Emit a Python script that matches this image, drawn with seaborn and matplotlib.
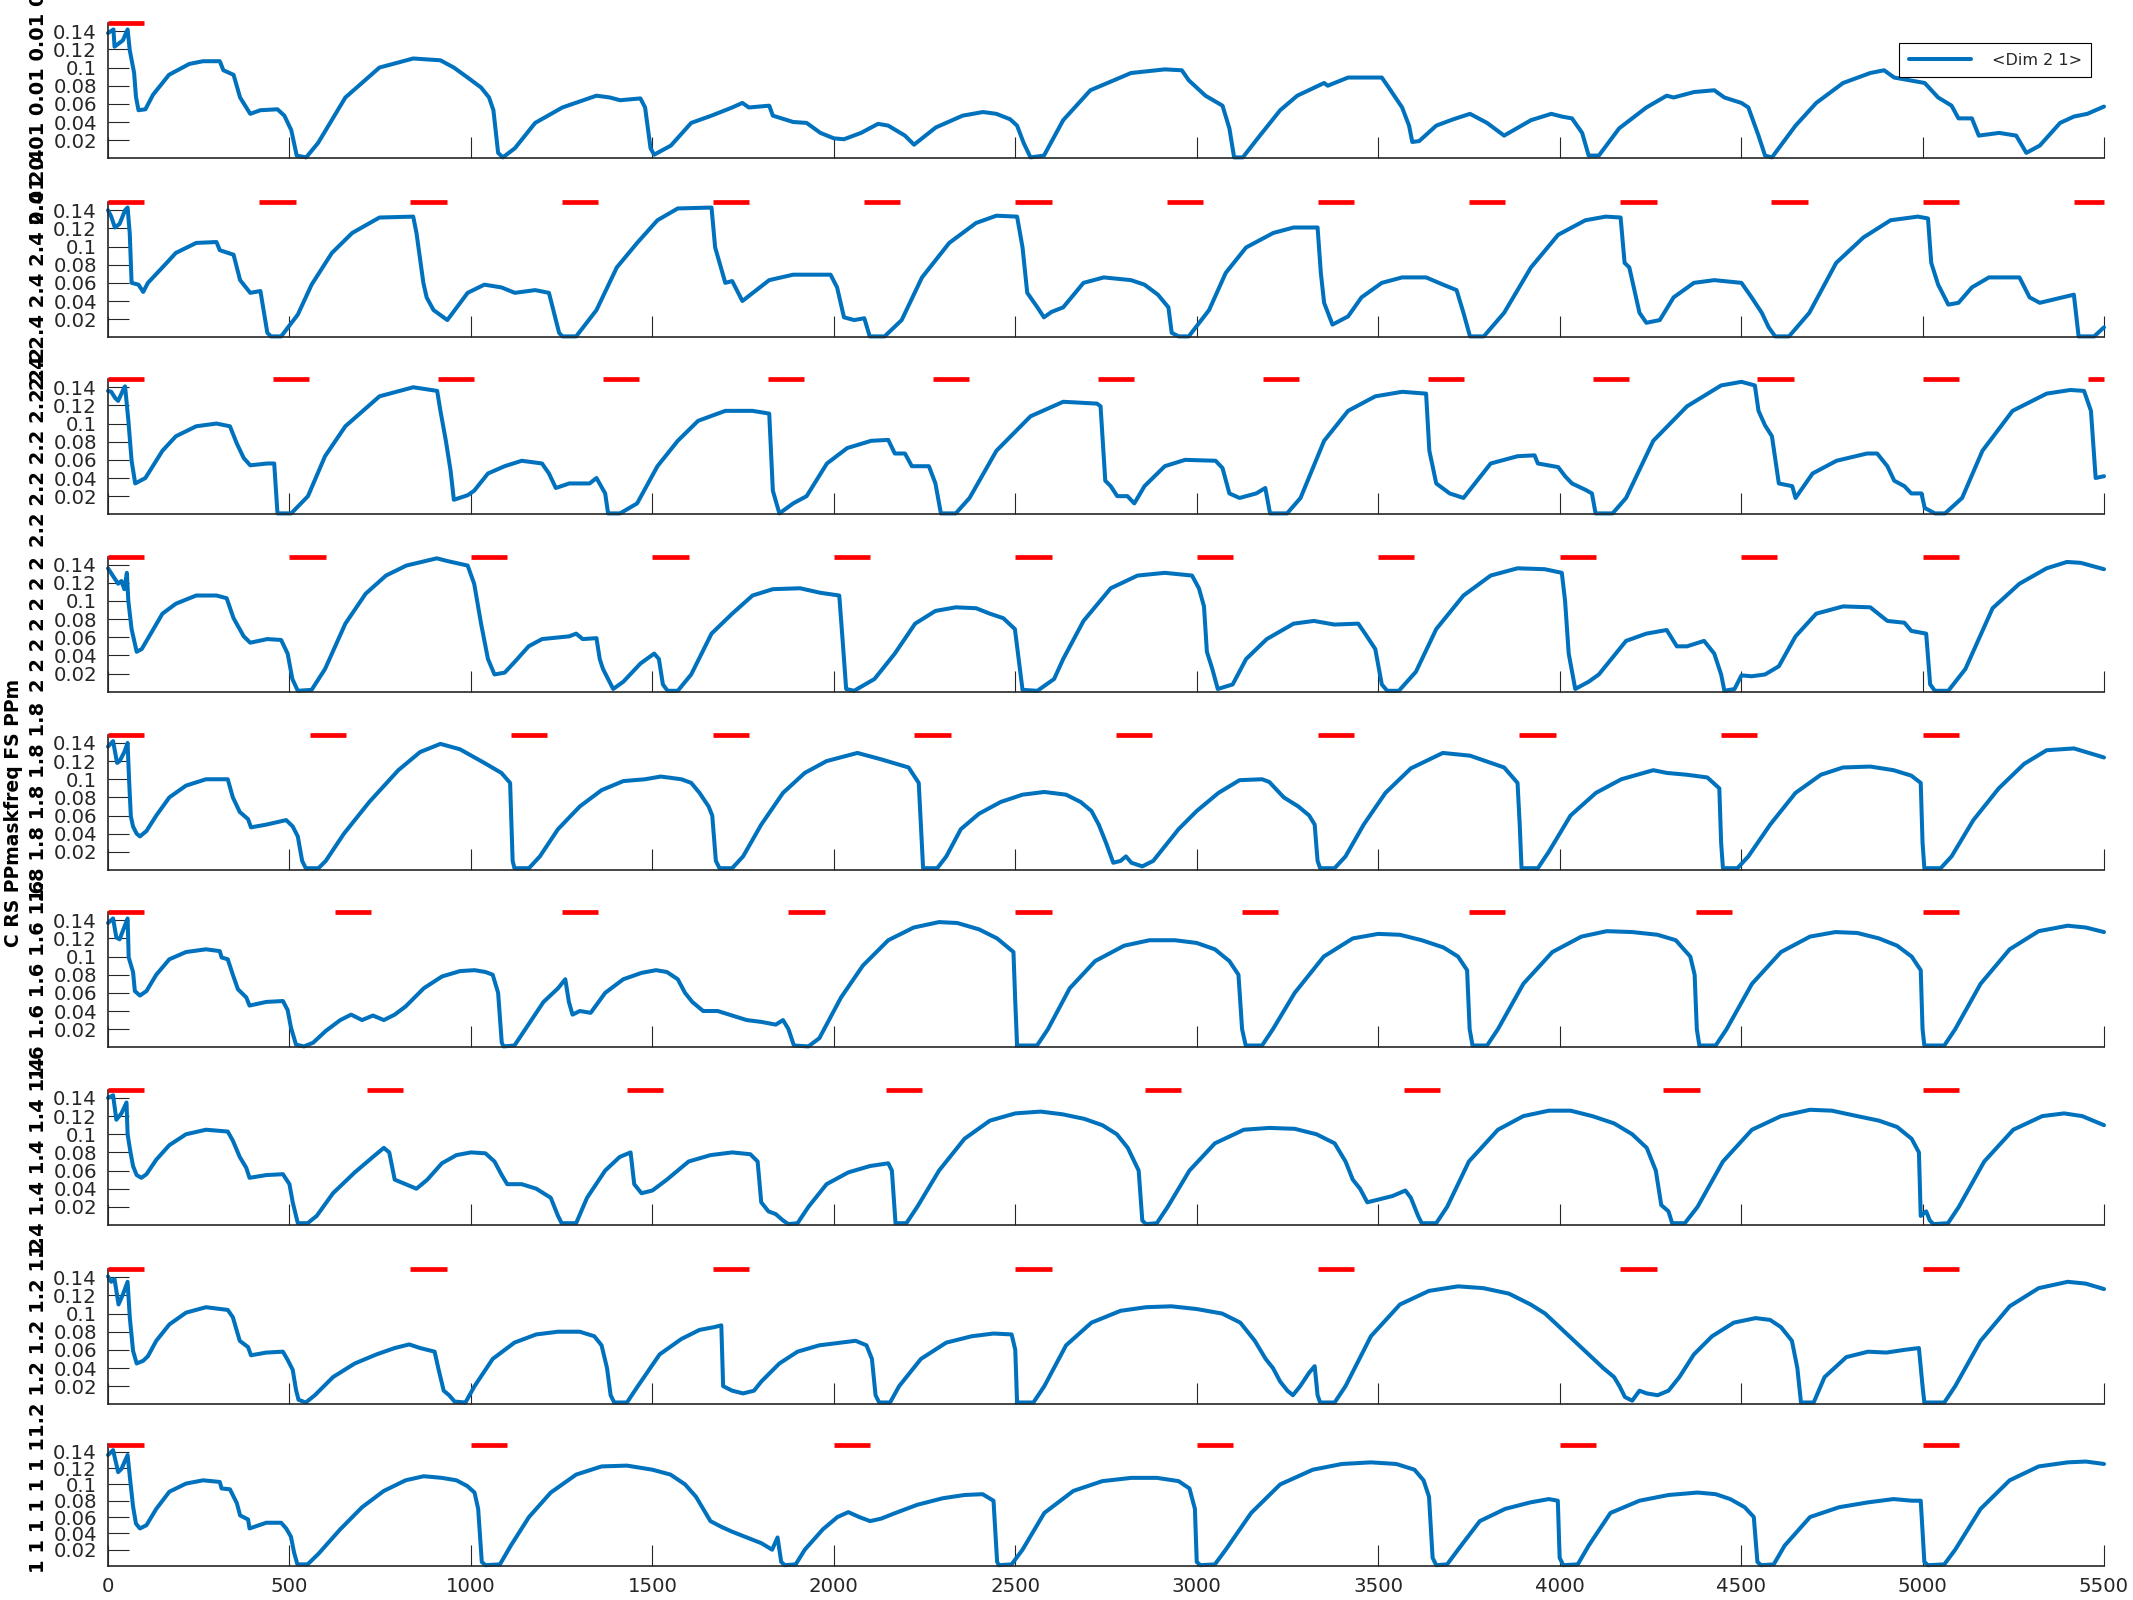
import matplotlib
matplotlib.use("Agg")
import matplotlib.pyplot as plt
from matplotlib.lines import Line2D
import pandas as pd
import seaborn as sns

sns.set_style("ticks")
plt.rcParams['font.family'] = ['DejaVu Sans']

# ---------------- data (x sample index, value) ----------------
s1 = [(0,0.138),(15,0.142),(18,0.123),(41,0.130),(54,0.142),(60,0.119),(72,0.094),(77,0.068),(84,0.053),(103,0.054),
      (124,0.070),(168,0.092),(224,0.104),(262,0.107),(308,0.107),(318,0.097),(346,0.092),(364,0.067),(392,0.049),(420,0.053),
      (467,0.054),(486,0.047),(505,0.031),(520,0.003),(546,0.001),(579,0.017),(654,0.067),(748,0.100),(841,0.110),(916,0.108),
      (953,0.100),(991,0.089),(1028,0.078),(1050,0.067),(1062,0.053),(1075,0.006),(1088,0.001),(1121,0.011),(1177,0.039),(1252,0.056),
      (1346,0.069),(1383,0.067),(1411,0.064),(1467,0.066),(1480,0.056),(1495,0.011),(1505,0.004),(1551,0.014),(1607,0.039),(1663,0.047),
      (1720,0.056),(1748,0.061),(1766,0.056),(1822,0.058),(1832,0.047),(1888,0.040),(1925,0.039),(1963,0.028),(2000,0.022),(2028,0.021),
      (2075,0.028),(2122,0.038),(2150,0.036),(2196,0.025),(2221,0.015),(2281,0.034),(2355,0.047),(2411,0.051),(2448,0.049),(2486,0.043),
      (2505,0.036),(2523,0.017),(2542,0.001),(2579,0.003),(2632,0.042),(2707,0.075),(2819,0.094),(2912,0.098),(2959,0.097),(2978,0.086),
      (3024,0.069),(3071,0.058),(3090,0.033),(3103,0.001),(3127,0.001),(3174,0.025),(3230,0.053),(3277,0.069),(3351,0.083),(3361,0.080),
      (3417,0.089),(3510,0.089),(3529,0.078),(3566,0.056),(3585,0.036),(3594,0.018),(3613,0.019),(3660,0.036),(3707,0.043),(3753,0.049),
      (3800,0.039),(3847,0.025),(3921,0.042),(3977,0.049),(4006,0.046),(4034,0.044),(4062,0.028),(4080,0.003),(4108,0.003),(4164,0.033),
      (4239,0.056),(4295,0.069),(4314,0.067),(4370,0.073),(4426,0.075),(4454,0.067),(4501,0.061),(4520,0.056),(4548,0.025),(4566,0.003),
      (4585,0.001),(4650,0.036),(4707,0.061),(4781,0.083),(4856,0.094),(4894,0.097),(4922,0.089),(5006,0.083),(5043,0.067),(5080,0.058),
      (5099,0.044),(5136,0.044),(5155,0.025),(5211,0.028),(5258,0.025),(5286,0.006),(5323,0.014),(5379,0.039),(5417,0.046),(5454,0.049),
      (5500,0.057)]

s2 = [(0,0.140),(9,0.133),(19,0.121),(32,0.125),(47,0.140),(54,0.143),(60,0.114),(65,0.060),(84,0.058),(97,0.050),
      (110,0.060),(150,0.077),(187,0.093),(243,0.104),(299,0.105),(308,0.096),(346,0.091),(364,0.063),(392,0.049),(420,0.051),
      (439,0.005),(449,0.001),(477,0.001),(523,0.025),(561,0.058),(617,0.093),(673,0.115),(748,0.132),(841,0.133),(850,0.115),
      (869,0.060),(878,0.044),(897,0.030),(935,0.019),(991,0.049),(1037,0.058),(1084,0.055),(1121,0.049),(1177,0.052),(1215,0.049),
      (1243,0.005),(1252,0.001),(1290,0.001),(1346,0.030),(1402,0.077),(1458,0.104),(1514,0.129),(1570,0.142),(1663,0.143),(1673,0.099),
      (1701,0.060),(1720,0.062),(1748,0.040),(1822,0.063),(1888,0.069),(1991,0.069),(2009,0.055),(2028,0.022),(2056,0.019),(2084,0.021),
      (2099,0.001),(2140,0.001),(2187,0.019),(2243,0.066),(2318,0.104),(2392,0.126),(2448,0.134),(2505,0.133),(2520,0.099),(2533,0.049),
      (2561,0.033),(2579,0.022),(2600,0.028),(2632,0.033),(2688,0.060),(2744,0.066),(2819,0.063),(2856,0.058),(2893,0.047),(2922,0.033),
      (2931,0.005),(2950,0.001),(2978,0.001),(3034,0.030),(3080,0.071),(3136,0.099),(3211,0.115),(3267,0.121),(3333,0.121),(3342,0.071),
      (3351,0.038),(3374,0.014),(3417,0.023),(3454,0.044),(3510,0.060),(3566,0.066),(3632,0.066),(3679,0.058),(3716,0.052),(3735,0.027),
      (3753,0.001),(3791,0.001),(3847,0.027),(3921,0.077),(3996,0.113),(4071,0.129),(4127,0.133),(4168,0.132),(4179,0.082),(4192,0.077),
      (4220,0.027),(4239,0.016),(4276,0.019),(4314,0.044),(4370,0.060),(4426,0.063),(4501,0.060),(4529,0.044),(4557,0.027),(4576,0.011),
      (4594,0.001),(4632,0.001),(4688,0.027),(4762,0.082),(4837,0.110),(4912,0.129),(4987,0.133),(5015,0.131),(5024,0.082),(5043,0.058),
      (5071,0.036),(5099,0.038),(5136,0.055),(5183,0.066),(5267,0.066),(5295,0.044),(5323,0.038),(5417,0.047),(5430,0.001),(5473,0.001),
      (5500,0.011)]

s3 = [(0,0.136),(9,0.135),(20,0.128),(28,0.125),(45,0.140),(47,0.141),(56,0.104),(65,0.059),(75,0.034),(103,0.040),
      (150,0.070),(187,0.086),(243,0.097),(299,0.100),(336,0.097),(355,0.078),(374,0.062),(392,0.054),(439,0.056),(458,0.056),
      (467,0.001),(505,0.001),(551,0.020),(598,0.064),(654,0.097),(748,0.130),(841,0.140),(907,0.136),(916,0.114),(931,0.081),
      (944,0.048),(953,0.016),(991,0.021),(1009,0.026),(1047,0.045),(1093,0.053),(1140,0.059),(1196,0.056),(1215,0.045),(1234,0.029),
      (1271,0.034),(1327,0.034),(1346,0.040),(1370,0.023),(1378,0.001),(1411,0.001),(1458,0.012),(1514,0.053),(1570,0.081),(1626,0.103),
      (1701,0.114),(1776,0.114),(1822,0.111),(1832,0.026),(1850,0.001),(1888,0.012),(1925,0.020),(1981,0.056),(2037,0.073),(2103,0.081),
      (2150,0.082),(2168,0.067),(2196,0.067),(2215,0.053),(2262,0.053),(2280,0.034),(2295,0.001),(2336,0.001),(2374,0.018),(2448,0.070),
      (2542,0.108),(2632,0.124),(2725,0.122),(2735,0.119),(2748,0.037),(2763,0.031),(2781,0.020),(2809,0.020),(2828,0.012),(2856,0.031),
      (2912,0.053),(2968,0.060),(3052,0.059),(3071,0.051),(3090,0.023),(3118,0.018),(3164,0.023),(3189,0.029),(3202,0.001),(3249,0.001),
      (3286,0.018),(3351,0.081),(3417,0.114),(3492,0.130),(3566,0.135),(3632,0.133),(3641,0.070),(3660,0.034),(3697,0.023),(3735,0.018),
      (3810,0.056),(3884,0.064),(3931,0.065),(3940,0.056),(3996,0.052),(4015,0.042),(4034,0.034),(4071,0.027),(4089,0.023),(4099,0.001),
      (4146,0.001),(4183,0.018),(4258,0.081),(4351,0.119),(4445,0.142),(4501,0.146),(4538,0.142),(4548,0.114),(4566,0.098),(4585,0.086),
      (4604,0.034),(4641,0.031),(4650,0.018),(4697,0.045),(4763,0.059),(4847,0.067),(4875,0.067),(4903,0.053),(4922,0.037),(4950,0.031),
      (4969,0.023),(4997,0.023),(5006,0.007),(5034,0.001),(5062,0.001),(5109,0.018),(5165,0.070),(5248,0.114),(5342,0.133),(5407,0.137),
      (5445,0.136),(5464,0.114),(5477,0.040),(5500,0.042)]

s4 = [(0,0.136),(13,0.128),(28,0.119),(37,0.122),(45,0.113),(52,0.131),(56,0.100),(65,0.069),(79,0.044),(93,0.047),
      (150,0.086),(187,0.097),(243,0.106),(299,0.106),(327,0.103),(346,0.081),(374,0.061),(392,0.054),(439,0.058),(477,0.057),
      (495,0.042),(508,0.014),(523,0.001),(561,0.002),(598,0.025),(654,0.075),(710,0.108),(766,0.128),(822,0.139),(906,0.147),
      (935,0.144),(991,0.139),(1009,0.119),(1028,0.075),(1047,0.036),(1065,0.019),(1093,0.021),(1121,0.033),(1159,0.050),(1196,0.058),
      (1271,0.061),(1290,0.064),(1308,0.058),(1346,0.059),(1355,0.036),(1364,0.025),(1392,0.003),(1420,0.011),(1467,0.031),(1505,0.042),
      (1518,0.036),(1529,0.008),(1542,0.001),(1570,0.001),(1607,0.019),(1663,0.064),(1720,0.086),(1776,0.106),(1832,0.113),(1907,0.114),
      (1963,0.109),(2015,0.106),(2024,0.058),(2034,0.003),(2056,0.001),(2112,0.014),(2168,0.042),(2224,0.075),(2280,0.089),(2336,0.093),
      (2392,0.092),(2430,0.086),(2467,0.081),(2499,0.069),(2511,0.031),(2520,0.002),(2561,0.001),(2607,0.014),(2632,0.036),(2688,0.078),
      (2763,0.114),(2837,0.128),(2912,0.131),(2987,0.128),(3006,0.114),(3020,0.094),(3028,0.044),(3043,0.025),(3058,0.003),(3099,0.008),
      (3136,0.036),(3193,0.058),(3267,0.075),(3323,0.078),(3379,0.074),(3445,0.075),(3464,0.064),(3492,0.047),(3510,0.008),(3525,0.001),
      (3557,0.001),(3604,0.022),(3660,0.069),(3735,0.106),(3810,0.128),(3884,0.136),(3959,0.135),(4006,0.131),(4015,0.100),(4025,0.042),
      (4043,0.003),(4080,0.011),(4108,0.019),(4183,0.056),(4239,0.064),(4295,0.068),(4323,0.050),(4351,0.050),(4398,0.056),(4426,0.042),
      (4445,0.019),(4454,0.001),(4482,0.003),(4501,0.018),(4529,0.017),(4566,0.019),(4604,0.028),(4650,0.061),(4707,0.086),(4781,0.094),
      (4856,0.093),(4903,0.078),(4950,0.076),(4969,0.067),(5010,0.064),(5021,0.008),(5034,0.001),(5071,0.001),(5118,0.025),(5193,0.092),
      (5267,0.119),(5342,0.136),(5398,0.143),(5436,0.142),(5500,0.135)]

s5 = [(0,0.136),(14,0.142),(25,0.118),(32,0.120),(45,0.130),(54,0.140),(58,0.100),(63,0.059),(69,0.048),(79,0.040),
      (88,0.037),(106,0.043),(133,0.060),(169,0.080),(215,0.093),(270,0.100),(330,0.100),(344,0.080),(363,0.064),(386,0.056),
      (394,0.047),(436,0.050),(491,0.055),(509,0.048),(523,0.037),(535,0.010),(545,0.002),(580,0.002),(600,0.010),(650,0.040),
      (720,0.075),(800,0.110),(860,0.130),(916,0.139),(970,0.133),(1037,0.118),(1084,0.107),(1108,0.096),(1115,0.010),(1120,0.002),
      (1160,0.002),(1190,0.015),(1240,0.045),(1300,0.070),(1360,0.088),(1420,0.098),(1480,0.100),(1523,0.103),(1580,0.100),(1607,0.096),
      (1630,0.085),(1655,0.070),(1665,0.060),(1675,0.010),(1685,0.002),(1720,0.002),(1750,0.015),(1800,0.050),(1860,0.085),(1920,0.107),
      (1980,0.120),(2065,0.129),(2130,0.122),(2206,0.113),(2234,0.096),(2240,0.050),(2246,0.002),(2285,0.002),(2310,0.015),(2350,0.045),
      (2400,0.062),(2460,0.075),(2520,0.083),(2580,0.086),(2640,0.083),(2680,0.075),(2710,0.065),(2730,0.050),(2750,0.030),(2770,0.008),
      (2790,0.010),(2805,0.015),(2820,0.008),(2850,0.004),(2880,0.010),(2900,0.020),(2950,0.045),(3000,0.065),(3060,0.085),(3118,0.099),
      (3180,0.100),(3200,0.097),(3240,0.080),(3280,0.070),(3310,0.060),(3325,0.050),(3333,0.010),(3340,0.002),(3380,0.002),(3410,0.015),
      (3460,0.050),(3520,0.085),(3590,0.112),(3678,0.129),(3753,0.126),(3847,0.113),(3884,0.096),(3890,0.050),(3895,0.002),(3940,0.002),
      (3970,0.020),(4030,0.060),(4100,0.085),(4170,0.100),(4258,0.110),(4295,0.107),(4350,0.105),(4407,0.102),(4440,0.090),(4445,0.030),
      (4450,0.002),(4490,0.002),(4520,0.015),(4580,0.050),(4650,0.085),(4720,0.105),(4781,0.113),(4856,0.114),(4920,0.110),(4969,0.104),
      (4995,0.096),(5000,0.030),(5005,0.002),(5050,0.002),(5080,0.015),(5140,0.055),(5210,0.090),(5280,0.117),(5342,0.132),(5417,0.134),
      (5500,0.124)]

s6 = [(0,0.137),(14,0.142),(23,0.121),(32,0.119),(54,0.142),(57,0.099),(69,0.083),(74,0.062),(88,0.057),(106,0.062),
      (133,0.080),(169,0.097),(215,0.105),(270,0.108),(308,0.106),(313,0.099),(330,0.097),(344,0.080),(358,0.064),(381,0.055),
      (390,0.046),(436,0.050),(482,0.051),(495,0.041),(504,0.022),(518,0.003),(540,0.001),(565,0.005),(600,0.018),(640,0.030),
      (670,0.036),(700,0.030),(730,0.035),(760,0.030),(790,0.036),(820,0.045),(870,0.065),(920,0.078),(970,0.084),(1010,0.085),
      (1040,0.083),(1060,0.080),(1075,0.060),(1085,0.005),(1090,0.001),(1120,0.002),(1150,0.020),(1200,0.050),(1240,0.065),(1260,0.075),
      (1270,0.050),(1280,0.036),(1300,0.040),(1330,0.038),(1370,0.060),(1420,0.075),(1470,0.082),(1510,0.085),(1540,0.083),(1570,0.075),
      (1590,0.060),(1610,0.050),(1640,0.040),(1680,0.040),(1720,0.035),(1760,0.030),(1800,0.028),(1840,0.025),(1860,0.030),(1875,0.020),
      (1890,0.002),(1930,0.001),(1960,0.010),(2020,0.055),(2080,0.090),(2150,0.118),(2220,0.132),(2290,0.138),(2340,0.137),(2400,0.130),
      (2450,0.120),(2480,0.110),(2495,0.105),(2500,0.050),(2505,0.002),(2560,0.002),(2590,0.020),(2650,0.065),(2720,0.095),(2800,0.112),
      (2870,0.118),(2940,0.118),(3000,0.115),(3050,0.108),(3090,0.095),(3115,0.080),(3125,0.020),(3135,0.002),(3180,0.002),(3210,0.020),
      (3270,0.060),(3350,0.100),(3430,0.120),(3500,0.125),(3560,0.124),(3620,0.118),(3680,0.110),(3720,0.100),(3745,0.085),(3752,0.020),
      (3760,0.002),(3800,0.002),(3830,0.020),(3900,0.070),(3980,0.105),(4060,0.122),(4130,0.128),(4200,0.127),(4270,0.124),(4320,0.118),
      (4360,0.100),(4372,0.080),(4378,0.020),(4385,0.002),(4430,0.002),(4460,0.020),(4530,0.070),(4610,0.105),(4690,0.122),(4760,0.127),
      (4820,0.126),(4880,0.120),(4930,0.112),(4970,0.100),(4995,0.085),(5000,0.020),(5005,0.002),(5060,0.002),(5090,0.020),(5160,0.070),
      (5240,0.108),(5320,0.128),(5400,0.134),(5450,0.132),(5500,0.127)]

s7 = [(0,0.140),(14,0.143),(23,0.116),(37,0.123),(51,0.135),(54,0.100),(62,0.080),(69,0.065),(79,0.055),(92,0.052),
      (106,0.056),(133,0.072),(169,0.088),(215,0.100),(270,0.105),(330,0.103),(344,0.093),(363,0.075),(381,0.063),(390,0.052),
      (436,0.055),(482,0.056),(500,0.045),(509,0.025),(523,0.002),(550,0.002),(575,0.010),(620,0.035),(680,0.058),(730,0.075),
      (760,0.085),(775,0.080),(790,0.050),(820,0.045),(850,0.040),(880,0.050),(920,0.068),(960,0.077),(1000,0.080),(1040,0.079),
      (1065,0.070),(1085,0.055),(1100,0.045),(1140,0.045),(1180,0.040),(1200,0.035),(1220,0.030),(1240,0.010),(1250,0.002),(1290,0.002),
      (1320,0.030),(1370,0.060),(1410,0.075),(1440,0.080),(1450,0.045),(1470,0.035),(1500,0.038),(1540,0.050),(1600,0.070),(1660,0.077),
      (1720,0.080),(1770,0.078),(1790,0.070),(1800,0.025),(1820,0.015),(1840,0.012),(1860,0.005),(1875,0.001),(1900,0.002),(1930,0.020),
      (1980,0.045),(2040,0.058),(2100,0.065),(2150,0.068),(2160,0.060),(2170,0.002),(2200,0.002),(2230,0.020),(2290,0.060),(2360,0.095),
      (2430,0.115),(2500,0.123),(2570,0.125),(2630,0.122),(2690,0.117),(2740,0.110),(2780,0.100),(2810,0.085),(2840,0.060),(2850,0.005),
      (2860,0.001),(2890,0.002),(2920,0.020),(2980,0.060),(3050,0.090),(3130,0.105),(3200,0.107),(3270,0.106),(3330,0.100),(3380,0.090),
      (3410,0.070),(3430,0.050),(3450,0.040),(3470,0.025),(3500,0.028),(3540,0.032),(3575,0.038),(3590,0.030),(3610,0.010),(3620,0.002),
      (3660,0.002),(3690,0.020),(3750,0.070),(3830,0.105),(3900,0.120),(3970,0.126),(4030,0.126),(4090,0.120),(4150,0.112),(4200,0.100),
      (4240,0.085),(4265,0.060),(4280,0.022),(4300,0.015),(4310,0.002),(4345,0.002),(4380,0.020),(4450,0.070),(4530,0.105),(4610,0.120),
      (4690,0.127),(4750,0.126),(4820,0.120),(4880,0.115),(4930,0.108),(4970,0.095),(4990,0.080),(4995,0.010),(5010,0.015),(5020,0.005),
      (5030,0.001),(5070,0.002),(5100,0.020),(5170,0.070),(5250,0.105),(5330,0.120),(5390,0.123),(5440,0.120),(5500,0.110)]

s8 = [(0,0.141),(9,0.135),(18,0.138),(29,0.110),(41,0.121),(54,0.135),(60,0.096),(69,0.059),(79,0.045),(97,0.048),
      (110,0.053),(133,0.070),(169,0.088),(215,0.101),(270,0.107),(330,0.104),(344,0.096),(363,0.070),(386,0.063),(394,0.054),
      (436,0.057),(482,0.058),(495,0.049),(509,0.038),(518,0.016),(525,0.005),(545,0.002),(570,0.010),(620,0.030),(680,0.045),
      (740,0.055),(790,0.062),(830,0.066),(860,0.062),(880,0.060),(900,0.058),(910,0.040),(925,0.015),(940,0.010),(955,0.003),
      (985,0.002),(1010,0.020),(1060,0.050),(1120,0.068),(1180,0.077),(1240,0.080),(1300,0.080),(1340,0.075),(1360,0.065),(1375,0.040),
      (1385,0.010),(1395,0.002),(1430,0.002),(1460,0.020),(1520,0.055),(1580,0.072),(1630,0.082),(1670,0.085),(1690,0.087),(1695,0.020),
      (1720,0.015),(1750,0.012),(1780,0.015),(1800,0.025),(1850,0.045),(1900,0.058),(1960,0.065),(2020,0.068),(2060,0.070),(2090,0.065),
      (2105,0.050),(2115,0.010),(2125,0.002),(2155,0.002),(2180,0.020),(2240,0.050),(2310,0.068),(2380,0.075),(2440,0.078),(2490,0.077),
      (2500,0.060),(2505,0.002),(2550,0.002),(2580,0.020),(2640,0.065),(2710,0.090),(2790,0.103),(2860,0.107),(2930,0.108),(3000,0.105),
      (3070,0.100),(3120,0.090),(3160,0.070),(3190,0.050),(3210,0.040),(3230,0.025),(3250,0.015),(3265,0.010),(3285,0.020),(3310,0.035),
      (3325,0.042),(3333,0.010),(3340,0.002),(3380,0.002),(3410,0.020),(3480,0.075),(3560,0.110),(3640,0.125),(3720,0.130),(3790,0.128),
      (3860,0.122),(3920,0.110),(3960,0.100),(4000,0.085),(4040,0.070),(4080,0.055),(4120,0.040),(4150,0.030),(4165,0.020),(4180,0.008),
      (4200,0.004),(4220,0.015),(4240,0.012),(4270,0.010),(4300,0.015),(4330,0.030),(4370,0.055),(4420,0.075),(4480,0.090),(4540,0.095),
      (4580,0.093),(4610,0.085),(4640,0.070),(4655,0.040),(4665,0.002),(4700,0.002),(4730,0.030),(4790,0.052),(4850,0.058),(4900,0.057),
      (4950,0.060),(4990,0.062),(5000,0.020),(5005,0.002),(5060,0.002),(5090,0.020),(5160,0.070),(5240,0.108),(5320,0.128),(5400,0.135),
      (5450,0.133),(5500,0.127)]

s9 = [(0,0.136),(14,0.142),(28,0.115),(37,0.119),(54,0.136),(60,0.110),(69,0.073),(77,0.052),(88,0.046),(106,0.050),
      (133,0.070),(169,0.091),(215,0.101),(262,0.105),(308,0.103),(313,0.095),(336,0.094),(355,0.077),(364,0.062),(386,0.057),
      (390,0.046),(436,0.053),(477,0.053),(491,0.046),(504,0.036),(513,0.016),(522,0.002),(550,0.002),(580,0.015),(640,0.045),
      (700,0.072),(760,0.092),(820,0.105),(870,0.110),(920,0.108),(960,0.105),(990,0.098),(1010,0.090),(1020,0.070),(1030,0.005),
      (1040,0.001),(1080,0.002),(1110,0.025),(1160,0.060),(1220,0.090),(1290,0.112),(1360,0.122),(1430,0.123),(1500,0.118),(1550,0.112),
      (1590,0.100),(1620,0.085),(1640,0.070),(1660,0.055),(1690,0.048),(1720,0.042),(1760,0.035),(1800,0.028),(1830,0.020),(1845,0.035),
      (1855,0.005),(1865,0.001),(1895,0.002),(1920,0.020),(1970,0.045),(2010,0.060),(2040,0.066),(2070,0.060),(2100,0.055),(2130,0.058),
      (2170,0.065),(2230,0.075),(2300,0.083),(2360,0.087),(2410,0.088),(2440,0.080),(2450,0.005),(2455,0.001),(2490,0.002),(2520,0.020),
      (2580,0.065),(2660,0.092),(2740,0.104),(2820,0.108),(2890,0.108),(2950,0.104),(2980,0.095),(2995,0.070),(3000,0.005),(3010,0.001),
      (3050,0.002),(3080,0.020),(3150,0.065),(3230,0.100),(3320,0.118),(3400,0.125),(3480,0.127),(3550,0.125),(3600,0.118),(3625,0.105),
      (3640,0.085),(3650,0.010),(3660,0.001),(3690,0.002),(3720,0.020),(3780,0.055),(3850,0.070),(3920,0.078),(3970,0.082),(3995,0.080),
      (4000,0.010),(4010,0.001),(4050,0.002),(4080,0.025),(4140,0.065),(4220,0.080),(4300,0.087),(4380,0.090),(4430,0.088),(4470,0.082),
      (4510,0.072),(4535,0.060),(4545,0.005),(4555,0.001),(4590,0.002),(4620,0.025),(4690,0.060),(4770,0.072),(4850,0.078),(4920,0.082),
      (4970,0.080),(4995,0.080),(5005,0.005),(5015,0.001),(5060,0.002),(5090,0.020),(5160,0.070),(5240,0.105),(5320,0.122),(5400,0.127),
      (5450,0.128),(5500,0.125)]

# red marker bar start positions (each bar 100 samples long)
bars1 = [0]
bars2 = [0, 417, 833, 1250, 1667, 2083, 2500, 2917, 3333, 3750, 4167, 4583, 5000, 5417]
bars3 = [0, 455, 909, 1364, 1818, 2273, 2727, 3182, 3636, 4091, 4545, 5000, 5455]
bars4 = [0, 500, 1000, 1500, 2000, 2500, 3000, 3500, 4000, 4500, 5000]
bars5 = [0, 556, 1111, 1667, 2222, 2778, 3333, 3889, 4444, 5000]
bars6 = [0, 625, 1250, 1875, 2500, 3125, 3750, 4375, 5000]
bars7 = [0, 714, 1429, 2143, 2857, 3571, 4286, 5000]
bars8 = [0, 833, 1667, 2500, 3333, 4167, 5000]
bars9 = [0, 1000, 2000, 3000, 4000, 5000]
bar_len = 100
bar_level = 0.1488

ylabels = ["0.01 0.01 0.01 0.01 0.01",
           "2.4 2.4 2.4 2.4 2.4 2.4",
           "2.2 2.2 2.2 2.2 2.2",
           "2 2 2 2 2 2 2",
           "1.8 1.8 1.8 1.8 1.8",
           "1.6 1.6 1.6 1.6 1.6",
           "1.4 1.4 1.4 1.4 1.4",
           "1.2 1.2 1.2 1.2 1.2",
           "1 1 1 1 1 1 1"]
big_ylabel = "C RS PPmaskfreq FS PPm"
legend_text = "<Dim 2 1>"
xticks = list(range(0, 5501, 500))
yticks = [0.02, 0.04, 0.06, 0.08, 0.1, 0.12, 0.14]
ytick_labels = ["0.02", "0.04", "0.06", "0.08", "0.1", "0.12", "0.14"]

series = [s1, s2, s3, s4, s5, s6, s7, s8, s9]
bar_sets = [bars1, bars2, bars3, bars4, bars5, bars6, bars7, bars8, bars9]

# ---------------- layout (pixels) ----------------
W, H = 2133, 1600
left_px, right_px = 108, 2104
bottoms_px = [158.3, 337.3, 514.3, 691.7, 870.0, 1047.3, 1225.0, 1404.3, 1566.0]
heights_px = [135.2] * 8 + [121.6]
blue = '#0072BD'
dark = '#262626'

fig = plt.figure(figsize=(W / 100, H / 100), dpi=100)

for i, (s, bars) in enumerate(zip(series, bar_sets)):
    b, h = bottoms_px[i], heights_px[i]
    ax = fig.add_axes([left_px / W, 1 - b / H, (right_px - left_px) / W, h / H])
    df = pd.DataFrame(s, columns=["x", "y"])
    sns.lineplot(data=df, x="x", y="y", ax=ax, color=blue, linewidth=2.9,
                 sort=False, estimator=None, legend=False, clip_on=False)
    ax.hlines([bar_level] * len(bars), bars, [min(v + bar_len, 5500) for v in bars],
              colors='red', linewidth=3.4, clip_on=False, zorder=3)
    ax.set_xlim(0, 5500)
    ax.set_ylim(0, 0.149)
    ax.set_xticks(xticks)
    ax.set_yticks(yticks)
    ax.set_yticklabels(ytick_labels)
    ax.set_xlabel("")
    ax.set_ylabel("")
    for sp in ['top', 'right']:
        ax.spines[sp].set_visible(False)
    for sp in ['left', 'bottom']:
        ax.spines[sp].set_color(dark)
        ax.spines[sp].set_linewidth(1.2)
    ax.tick_params(axis='both', direction='in', length=14.9, width=0.8, color=dark,
                   labelsize=14.2, labelcolor=dark, pad=8)
    if i < 8:
        ax.tick_params(axis='x', labelbottom=False)
    ax.set_facecolor('none')
    # per-axes rotated label
    fig.text(38.5 / W, 1 - (b - h / 2) / H, ylabels[i], rotation=90, ha='center', va='center',
             fontsize=14, fontweight='bold', color='black')
    if i == 0:
        handle = Line2D([], [], color=blue, linewidth=2.9)
        leg = ax.legend([handle], [legend_text], loc='upper left',
                        bbox_to_anchor=(1899 / W, 1 - 43 / H), bbox_transform=fig.transFigure,
                        borderaxespad=0, fontsize=11.5, handlelength=3.9, handletextpad=1.3,
                        borderpad=0.6, fancybox=False, framealpha=1, edgecolor='black')
        leg.get_frame().set_linewidth(0.8)

fig.text(13.5 / W, 1 - 813 / H, big_ylabel, rotation=90, ha='center', va='center',
         fontsize=13.5, fontweight='bold', color='black')

fig.savefig("out.png", dpi=100, facecolor='white')
